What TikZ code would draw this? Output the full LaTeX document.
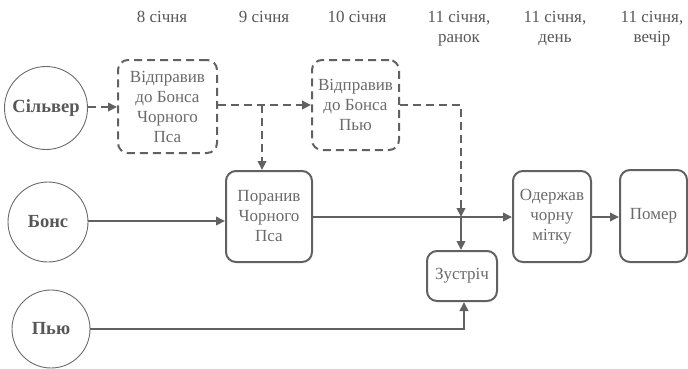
\documentclass[tikz,border=0pt]{standalone}
\usepackage{fontspec}
\setmainfont{Liberation Serif}
\newfontfamily\tms{Liberation Serif}
\usetikzlibrary{arrows.meta,calc}
\definecolor{linec}{HTML}{616161}
\definecolor{textc}{HTML}{6A6A6A}
\definecolor{labc}{HTML}{575757}
\definecolor{circc}{HTML}{6A6A6A}
\tikzset{
  actor/.style={circle,draw=circc,line width=0.9pt,inner sep=0pt,minimum size=#1,
    font=\tms\fontsize{18.5}{20}\selectfont\bfseries,text=labc},
  evbox/.style={draw=linec,line width=2pt,rounded corners=10pt,inner sep=0pt,align=center,
    font=\tms\fontsize{17}{20}\selectfont,text=textc},
  dashbox/.style={evbox,dash pattern=on 8pt off 5pt},
  conn/.style={draw=linec,line width=2pt,-{Triangle[length=9pt,width=8.5pt]}},
  dconn/.style={conn,dash pattern=on 8pt off 5pt},
  datec/.style={align=center,font=\tms\fontsize{17}{20}\selectfont,text=labc,inner sep=0pt}
}
\begin{document}
\begin{tikzpicture}[x=1pt,y=-1pt]
\useasboundingbox (0,0) rectangle (688,368);
% dates
\node[datec,anchor=north] (d1) at (162,11) {8 січня};
\node[datec,anchor=north] (d2) at (264,11) {9 січня};
\node[datec,anchor=north] (d3) at (357,11) {10 січня};
\node[datec,anchor=north] (d4) at (459,11) {11 січня,\\ранок};
\node[datec,anchor=north] (d5) at (555,11) {11 січня,\\день};
\node[datec,anchor=north] (d6) at (652,11) {11 січня,\\вечір};
% actors
\node[actor=83pt] (silver) at (46,108) {Сільвер};
\node[actor=80pt] (bons) at (48,222) {Бонс};
\node[actor=78pt] (pew) at (51,329) {Пью};
% events
\node[dashbox,minimum width=99pt,minimum height=93pt] (sent1) at (167.5,106.5) {Відправив\\до Бонса\\Чорного\\Пса};
\node[dashbox,minimum width=87pt,minimum height=90pt] (sent2) at (355.5,105) {Відправив\\до Бонса\\Пью};
\node[evbox,minimum width=86pt,minimum height=91pt] (wound) at (269,216.5) {Поранив\\Чорного\\Пса};
\node[evbox,minimum width=70pt,minimum height=50pt] (meet) at (462,276) {Зустріч};
\node[evbox,minimum width=78pt,minimum height=91pt] (mark) at (552,216.5) {Одержав\\чорну\\мітку};
\node[evbox,minimum width=67pt,minimum height=92pt] (died) at (653.5,216) {Помер};
% junctions
\coordinate (j1) at (262,105);
\coordinate (j2) at (461,217);
\coordinate (j3) at (464,329);
% connectors
\draw[dconn] (silver.east |- 0,107) -- (sent1.west |- 0,107);
\draw[dconn] (sent1.east |- j1) -- (sent2.west |- j1);
\draw[dconn] (j1) -- (j1 |- wound.north);
\draw[dconn] (sent2.east |- j1) -| (j2);
\draw[conn] (bons.east |- 0,221) -- (wound.west |- 0,221);
\draw[conn] (wound.east |- j2) -- (mark.west |- j2);
\draw[conn] (j2) -- (j2 |- meet.north);
\draw[conn] (mark.east |- j2) -- (died.west |- j2);
\draw[conn] (pew.east) -- (j3) -- (j3 |- meet.south);
\end{tikzpicture}
\end{document}
